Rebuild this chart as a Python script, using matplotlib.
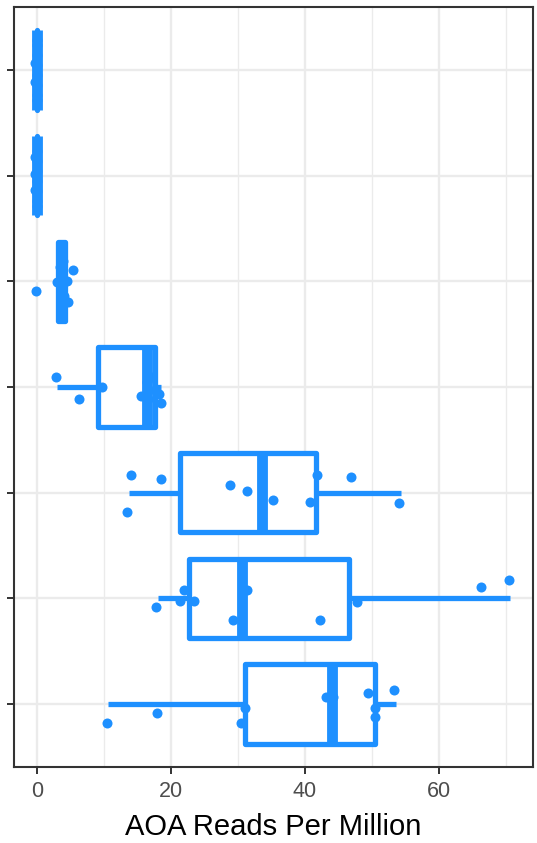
import matplotlib
matplotlib.use("Agg")
import matplotlib.pyplot as plt
from matplotlib.ticker import MultipleLocator

plt.rcParams['font.family'] = ['Liberation Sans', 'DejaVu Sans']

# ---- data (top row first) ----
groups = ["G1", "G2", "G3", "G4", "G5", "G6", "G7"]

points_g1 = [0, 0, 0, 0, 0, 0, 0, 0, -0.3, -0.3]
points_g2 = [0, 0, 0, 0, 0, 0, 0, -0.3, -0.3, -0.3]
points_g3 = [-0.16, 5.45, 3.46, 3.06, 4.46, 4.6, 3.7, 3.8, 3.9, 4.0]
points_g4 = [2.8, 6.3, 9.8, 15.6, 18.3, 18.6, 16.4, 16.8, 17.2, 16.6]
points_g5 = [14.1, 18.5, 13.4, 28.8, 31.4, 35.2, 40.8, 41.8, 46.9, 54.0]
points_g6 = [17.8, 21.4, 21.9, 23.5, 29.3, 31.3, 42.3, 47.7, 66.3, 70.4]
points_g7 = [10.4, 18.0, 30.4, 31.0, 43.2, 44.2, 49.4, 50.4, 50.4, 53.3]

# vertical jitter of each point (image pixels, + = down)
jitter_g1 = [-25, -15, -5, 5, 15, 25, -30, 30, -7, 12]
jitter_g2 = [-25, -15, -5, 5, 15, 25, 30, -19, -2, 14]
jitter_g3 = [10, -11, -14, 1, 0, 21, -5, 8, -20, 15]
jitter_g4 = [-10, 12, 0, 9, 7, 16, -5, 3, -10, 12]
jitter_g5 = [-18, -14, 19, -8, -2, 7, 9, -18, -16, 10]
jitter_g6 = [9, 3, -8, 3, 22, -8, 22, 4, -11, -18]
jitter_g7 = [19, 9, 19, 4, -7, -7, -11, 4, 13, -14]

box_q1 = [0, 0, 3.24, 9.2, 21.4, 22.7, 31.0]
box_med = [0, 0, 3.73, 16.4, 33.6, 30.6, 44.1]
box_q3 = [0, 0, 4.23, 17.6, 41.7, 46.6, 50.4]
whisk_lo = [0, 0, 3.06, 3.06, 13.7, 18.1, 10.6]
whisk_hi = [0, 0, 4.6, 18.6, 54.3, 70.6, 53.5]

x_ticks = [0, 20, 40, 60]
x_label = "AOA Reads Per Million"

points = [points_g1, points_g2, points_g3, points_g4, points_g5, points_g6, points_g7]
jitters = [jitter_g1, jitter_g2, jitter_g3, jitter_g4, jitter_g5, jitter_g6, jitter_g7]

# ---- figure ----
W, H = 537, 843
fig = plt.figure(figsize=(W / 100, H / 100), dpi=100)
left, right, top, bottom = 13.5, 533, 6.7, 767.3
ax = fig.add_axes([left / W, 1 - bottom / H, (right - left) / W, (bottom - top) / H])

color = "#1E90FF"
n = len(groups)
positions = [n - i for i in range(n)]
px_per_unit = (bottom - top) / 7.2

stats = []
for i in range(n):
    stats.append(dict(med=box_med[i], q1=box_q1[i], q3=box_q3[i],
                      whislo=whisk_lo[i], whishi=whisk_hi[i], fliers=[]))

ax.bxp(stats, positions=positions, widths=0.75, orientation='horizontal',
       patch_artist=True, showcaps=False, showfliers=False,
       boxprops=dict(facecolor='white', edgecolor=color, linewidth=3.8,
                     joinstyle='round', capstyle='round'),
       medianprops=dict(color=color, linewidth=7.8, solid_capstyle='butt'),
       whiskerprops=dict(color=color, linewidth=3.8, solid_capstyle='butt'),
       zorder=2)

for i in range(n):
    ys = [positions[i] - d / px_per_unit for d in jitters[i]]
    ax.scatter(points[i], ys, s=52, color=color, linewidths=0, zorder=3)

ax.set_xlim(-3.47, 74.0)
ax.set_ylim(0.4, 7.6)
ax.set_xticks(x_ticks)
ax.xaxis.set_minor_locator(MultipleLocator(10))
ax.set_yticks(positions)
ax.set_yticklabels([""] * n)

ax.set_axisbelow(True)
ax.grid(which='major', color='#EBEBEB', linewidth=1.7)
ax.grid(which='minor', axis='x', color='#EBEBEB', linewidth=1.0)
ax.tick_params(which='minor', length=0)
ax.tick_params(which='major', length=4.8, width=1.4, color='#333333',
               labelsize=15.5, labelcolor='#4D4D4D', pad=5)
for s in ax.spines.values():
    s.set_color('#333333')
    s.set_linewidth(1.5)

ax.set_xlabel(x_label, fontsize=21, color='black', labelpad=8)

fig.savefig("out.png", dpi=100)
